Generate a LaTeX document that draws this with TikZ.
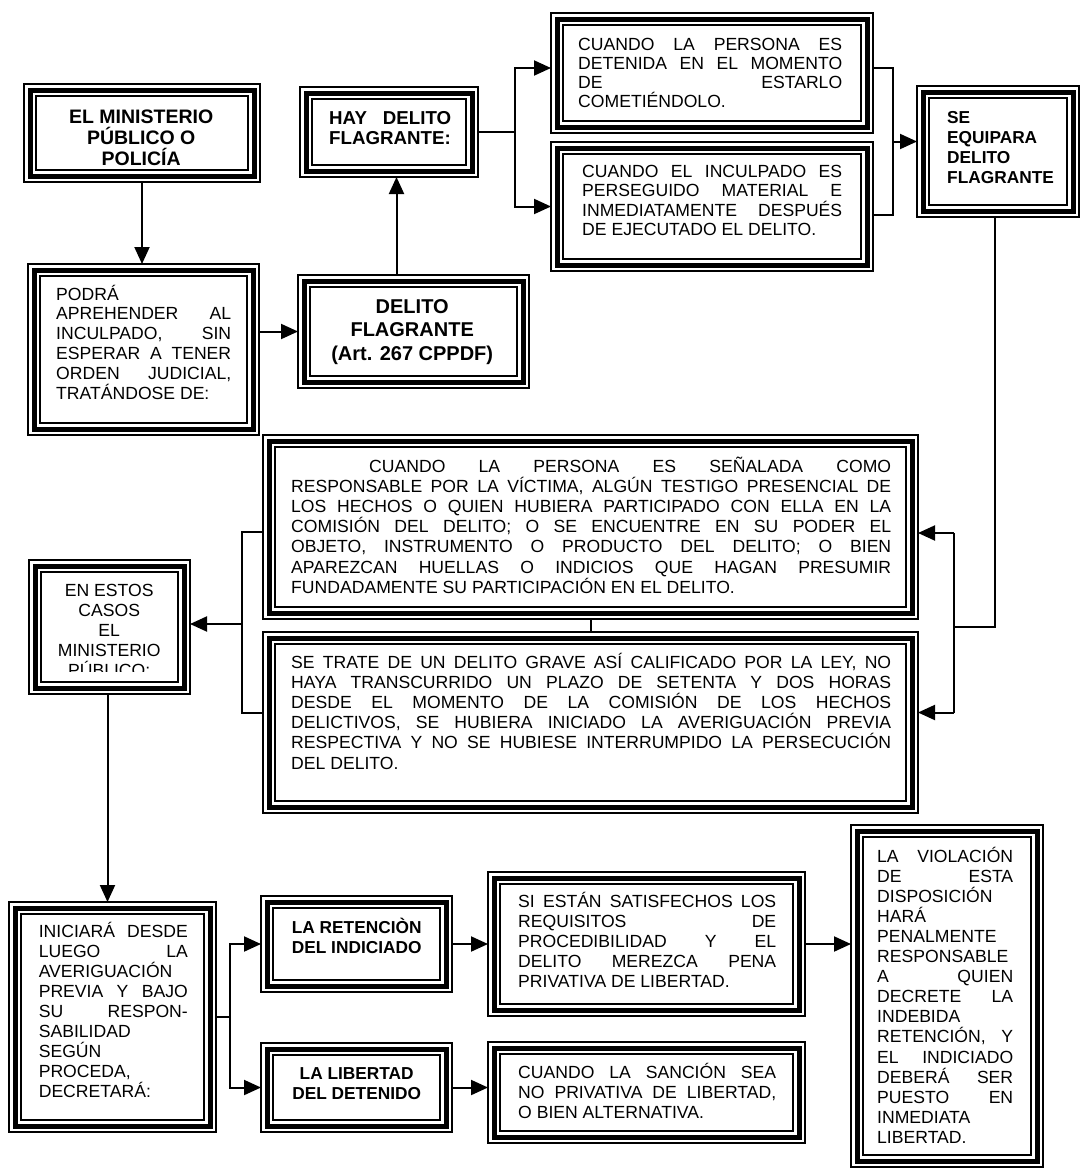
\documentclass[tikz,border=0pt]{standalone}
\usepackage{fontspec}
\setmainfont{Liberation Sans}
\usetikzlibrary{arrows.meta}
\hbadness=10000 \hfuzz=80pt \vbadness=10000
\newcommand\blk[3]{\vtop{\hsize=#1pt\relax #2\lineskiplimit=-50pt\relax\lineskip=0pt\relax #3}}
\newcommand\LJ[1]{\hbox to\hsize{#1}}
\newcommand\LF[1]{\hbox to\hsize{#1\hfil}}
\newcommand\LC[1]{\hbox to\hsize{\hfil#1\hfil}}
\newcommand\tx[6]{\node[anchor=base west,inner sep=0pt] (#1) at (#2,#3) {\blk{#4}{#5}{#6}};}
\newcommand\mkbox[5]{\node[tribox,minimum width={#4-#2},minimum height={#5-#3}] (#1) at ({(#2+#4)/2},{(#3+#5)/2}) {};}
\newcommand\rgf[1]{\fontsize{17.6}{#1}\selectfont}
\newcommand\bdf[2]{\bfseries\fontsize{#1}{#2}\selectfont}
\begin{document}
\begin{tikzpicture}[x=1pt,y=-1pt,
  tribox/.style={draw,line width=1.5pt,rectangle,inner sep=0pt,outer sep=0pt},
  ln/.style={line width=2pt},
  arr/.style={line width=2pt,-{Triangle[length=17pt,width=15pt]}}]
\fill[white] (0,0) rectangle (1082,1170);
\useasboundingbox (0,0) rectangle (1082,1170);
% boxes
\mkbox{A}{24}{84}{260}{182}
\mkbox{B}{300}{87}{478}{177}
\mkbox{C}{551}{13}{873}{133}
\mkbox{D}{551}{142}{873}{271}
\mkbox{E}{917}{86}{1079}{217}
\mkbox{F}{28}{264}{259}{435}
\mkbox{G}{298}{275}{529}{388}
\mkbox{H}{263}{435}{918}{619}
\mkbox{I}{263}{632}{918}{813}
\mkbox{J}{29}{560}{190}{694}
\mkbox{K}{9}{902}{216}{1132}
\mkbox{L}{261}{896}{452}{992}
\mkbox{M}{261}{1043}{452}{1132}
\mkbox{N}{488}{872}{805}{1016}
\mkbox{O}{488}{1042}{805}{1143}
\mkbox{P}{851}{825}{1043}{1167}
\foreach \n in {A,B,C,D,E,F,G,H,I,J,K,L,M,N,O,P}{
  \draw[line width=5pt] ([shift={(6pt,6pt)}]\n.south west) rectangle ([shift={(-6pt,-6pt)}]\n.north east);
  \draw[line width=1.5pt] ([shift={(12pt,12pt)}]\n.south west) rectangle ([shift={(-12pt,-12pt)}]\n.north east);
}
% texts
\tx{At}{41}{123}{200}{\bdf{19.5}{21}}{\LC{EL MINISTERIO}\LC{PÚBLICO O}\LC{POLICÍA}}
\tx{Bt}{329}{124}{122}{\bdf{18.7}{20}}{\LJ{HAY DELITO}\LF{FLAGRANTE:}}
\tx{Ct}{578}{50}{264}{\rgf{19.3}}{\LJ{CUANDO LA PERSONA ES}\LJ{DETENIDA EN EL MOMENTO}\LJ{DE ESTARLO}\LF{COMETIÉNDOLO.}}
\tx{Dt}{582}{177}{260}{\rgf{19.6}}{\LJ{CUANDO EL INCULPADO ES}\LJ{PERSEGUIDO MATERIAL E}\LJ{INMEDIATAMENTE DESPUÉS}\LF{DE EJECUTADO EL DELITO.}}
\tx{Et}{947}{123}{120}{\bdf{17.3}{20}}{\LF{SE}\LF{EQUIPARA}\LF{DELITO}\LF{FLAGRANTE}}
\tx{Ft}{56}{300}{175}{\rgf{19.9}}{\LF{PODRÁ}\LJ{APREHENDER AL}\LJ{INCULPADO, SIN}\LJ{ESPERAR A TENER}\LJ{ORDEN JUDICIAL,}\LF{TRATÁNDOSE DE:}}
\tx{Gt}{312}{313}{200}{\bdf{20}{23.5}}{\LC{DELITO}\LC{FLAGRANTE}\LC{(Art. 267 CPPDF)}}
\tx{Ht}{291}{472}{600}{\rgf{20.2}}{%
\LJ{\hskip78pt CUANDO LA PERSONA ES SEÑALADA COMO}
\LJ{RESPONSABLE POR LA VÍCTIMA, ALGÚN TESTIGO PRESENCIAL DE}
\LJ{LOS HECHOS O QUIEN HUBIERA PARTICIPADO CON ELLA EN LA}
\LJ{COMISIÓN DEL DELITO; O SE ENCUENTRE EN SU PODER EL}
\LJ{OBJETO, INSTRUMENTO O PRODUCTO DEL DELITO; O BIEN}
\LJ{APAREZCAN HUELLAS O INDICIOS QUE HAGAN PRESUMIR}
\LF{FUNDADAMENTE SU PARTICIPACIÓN EN EL DELITO.}}
\tx{It}{291}{668}{600}{\rgf{20.2}}{%
\LJ{SE TRATE DE UN DELITO GRAVE ASÍ CALIFICADO POR LA LEY, NO}
\LJ{HAYA TRANSCURRIDO UN PLAZO DE SETENTA Y DOS HORAS}
\LJ{DESDE EL MOMENTO DE LA COMISIÓN DE LOS HECHOS}
\LJ{DELICTIVOS, SE HUBIERA INICIADO LA AVERIGUACIÓN PREVIA}
\LJ{RESPECTIVA Y NO SE HUBIESE INTERRUMPIDO LA PERSECUCIÓN}
\LF{DEL DELITO.}}
\begin{scope}
\clip (29,560) rectangle (190,671);
\tx{Jt}{49}{596}{120}{\rgf{20}}{\LC{EN ESTOS}\LC{CASOS}\LC{EL}\LC{MINISTERIO}\LC{PÚBLICO:}}
\end{scope}
\tx{Kt}{38.6}{937}{149}{\rgf{20.1}}{\LJ{INICIARÁ DESDE}\LJ{LUEGO LA}\LF{AVERIGUACIÓN}\LJ{PREVIA Y BAJO}\LJ{SU RESPON-}\LF{SABILIDAD}\LF{SEGÚN}\LF{PROCEDA,}\LF{DECRETARÁ:}}
\tx{Lt}{286.5}{933}{140}{\bdf{17.3}{20}}{\LC{LA RETENCIÒN}\LC{DEL INDICIADO}}
\tx{Mt}{286.5}{1079}{140}{\bdf{17.3}{20}}{\LC{LA LIBERTAD}\LC{DEL DETENIDO}}
\tx{Nt}{518}{907}{258}{\rgf{20}}{\LJ{SI ESTÁN SATISFECHOS LOS}\LJ{REQUISITOS DE}\LJ{PROCEDIBILIDAD Y EL}\LJ{DELITO MEREZCA PENA}\LF{PRIVATIVA DE LIBERTAD.}}
\tx{Ot}{518}{1078}{258}{\rgf{20}}{\LJ{CUANDO LA SANCIÓN SEA}\LJ{NO PRIVATIVA DE LIBERTAD,}\LF{O BIEN ALTERNATIVA.}}
\tx{Pt}{877}{862}{136}{\rgf{20.1}}{\LJ{LA VIOLACIÓN}\LJ{DE ESTA}\LF{DISPOSICIÓN}\LF{HARÁ}\LF{PENALMENTE}\LF{RESPONSABLE}\LJ{A QUIEN}\LJ{DECRETE LA}\LF{INDEBIDA}\LJ{RETENCIÓN, Y}\LJ{EL INDICIADO}\LJ{DEBERÁ SER}\LJ{PUESTO EN}\LF{INMEDIATA}\LF{LIBERTAD.}}
% connectors
\draw[arr] (A.south) -- (A.south |- F.north);
\draw[arr] (F.east |- G.west) -- (G.west);
\draw[arr] ([xshift=-17pt]G.north) -- ([xshift=-17pt]G.north |- B.south);
\draw[ln] (B.east) -- ++(37pt,0);
\draw[arr] ([xshift=37pt]B.east) |- ([yshift=5pt]C.west);
\draw[arr] ([xshift=37pt]B.east) |- (D.west);
\draw[ln] ([yshift=5pt]C.east) -- ++(20pt,0) |- ([yshift=-8.5pt]D.east);
\draw[arr] ([xshift=-24pt,yshift=10pt]E.west) -- ([yshift=10pt]E.west);
\draw[ln] ([xshift=-3pt]E.south) -- ++(0,-410pt) -- ++(-41pt,0);
\draw[ln] ([xshift=36pt,yshift=-6pt]H.east) -- ([xshift=36pt,yshift=10pt]I.east);
\draw[arr] ([xshift=36pt,yshift=-6pt]H.east) -- ([yshift=-6pt]H.east);
\draw[arr] ([xshift=36pt,yshift=10pt]I.east) -- ([yshift=10pt]I.east);
\draw[ln] (H.south) -- (I.north);
\draw[ln] ([yshift=-5pt]H.west) -- ++(-21pt,0) |- ([yshift=10pt]I.west);
\draw[arr] ([xshift=-21pt,yshift=3pt]H.west |- J.east) -- ([yshift=3pt]J.east);
\draw[arr] ([xshift=-2pt]J.south) -- ([xshift=-2pt]J.south |- K.north);
\draw[ln] (K.east) -- ++(14pt,0);
\draw[arr] ([xshift=14pt]K.east) |- (L.west);
\draw[arr] ([xshift=14pt]K.east) |- (M.west);
\draw[arr] (L.east) -- (L.east -| N.west);
\draw[arr] (M.east) -- (M.east -| O.west);
\draw[arr] (N.east) -- (N.east -| P.west);
\end{tikzpicture}
\end{document}
